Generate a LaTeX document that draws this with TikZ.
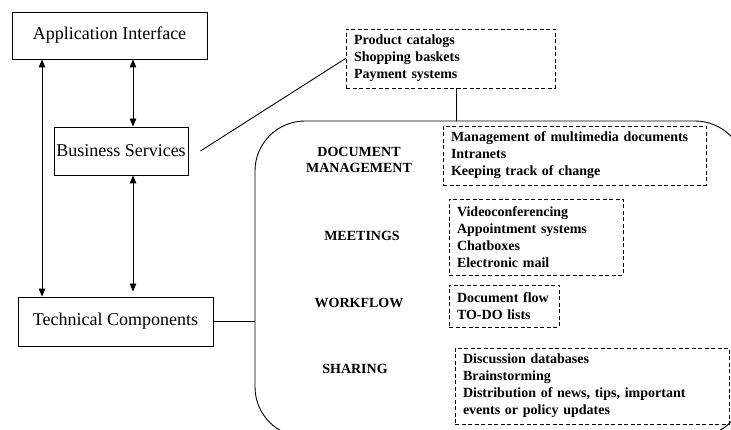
\documentclass[tikz,border=0pt]{standalone}
\usepackage{fontspec}
\setmainfont{Liberation Serif}
\usetikzlibrary{arrows.meta}

\tikzset{
  tier/.style={draw, line width=0.9pt, minimum width=#1, inner sep=0pt,
    font=\fontsize{18}{21}\selectfont},
  listbox/.style={draw, line width=0.9pt, dash pattern=on 4pt off 2.5pt,
    align=left, inner xsep=8pt, inner ysep=0pt,
    font=\bfseries\fontsize{14}{17}\selectfont},
  area/.style={align=center, inner sep=0pt,
    font=\bfseries\fontsize{14}{16}\selectfont},
  link/.style={line width=0.9pt},
  both/.style={line width=0.9pt, {Triangle[length=8pt,width=6.5pt]}-{Triangle[length=8pt,width=6.5pt]}}
}

\begin{document}
\begin{tikzpicture}[x=1pt, y=-1pt]
\useasboundingbox (0,0) rectangle (731,430);

% three tiers on the left
\node[tier=195pt, minimum height=47pt] (ai) at (109.5,35.5) {Application Interface};
\node[tier=134pt, minimum height=48pt] (bs) at (121,151) {Business Services};
\node[tier=195pt, minimum height=49pt] (tc) at (115.5,321.5) {Technical Components};

% arrows between the tiers
\coordinate (xa) at (42,0);
\coordinate (xb) at (133,0);
\draw[both] (ai.south -| xa) -- (tc.north -| xa);
\draw[both] (ai.south -| xb) -- (bs.north -| xb);
\draw[both] (bs.south -| xb) -- ([yshift=5pt]tc.north -| xb);

% business services examples
\node[listbox, text width=193pt, minimum height=59pt] (prod) at (450.5,58.5)
  {Product catalogs\\Shopping baskets\\Payment systems};
\coordinate (bsend) at ([xshift=12pt]bs.east);
\draw[link] (bsend) -- (prod.west);

% groupware area (runs past the edges)
\coordinate (gtop) at (456,121);
\coordinate (gleft) at (255,321.5);
\begin{scope}
  \clip (0,0) rectangle (731,430);
  \draw[link, rounded corners=50pt] (255,121) rectangle (745,437);
\end{scope}
\draw[link] (prod.south -| gtop) -- (gtop);
\draw[link] (tc.east) -- (gleft);

% categories
\node[area] (dml) at (359,160) {DOCUMENT\\MANAGEMENT};
\node[area] (mtl) at (362,236) {MEETINGS};
\node[area] (wfl) at (359,303) {WORKFLOW};
\node[area] (shl) at (355,369) {SHARING};

% tools for each category
\node[listbox, text width=247pt, minimum height=59pt] (dm) at (574.5,155.5)
  {Management of multimedia documents\\Intranets\\Keeping track of change};
\node[listbox, text width=158pt, minimum height=76pt] (mt) at (536,237)
  {Videoconferencing\\Appointment systems\\Chatboxes\\Electronic mail};
\node[listbox, text width=94pt, minimum height=42pt] (wf) at (504,306)
  {Document flow\\TO-DO lists};
\node[listbox, text width=258pt, minimum height=76pt] (sh) at (592,386)
  {Discussion databases\\Brainstorming\\Distribution of news, tips, important\\events or policy updates};
\end{tikzpicture}
\end{document}
